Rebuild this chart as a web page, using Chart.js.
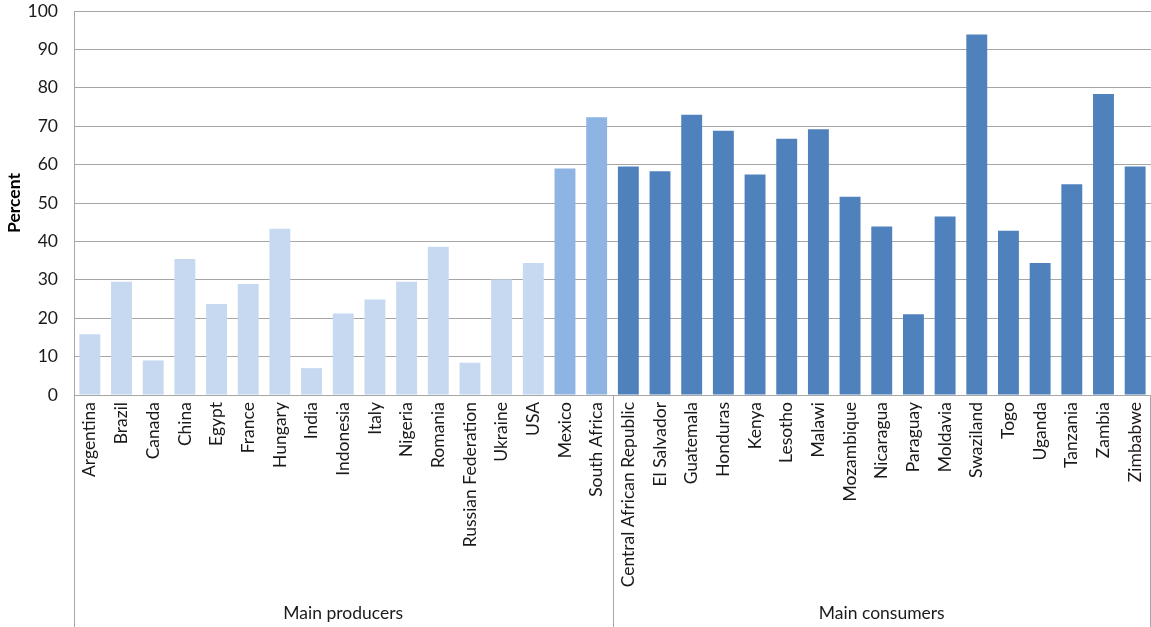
<!DOCTYPE html>
<html><head><meta charset="utf-8">
<script src="https://cdn.jsdelivr.net/npm/chart.js@4.4.1/dist/chart.umd.min.js"></script>
<style>html,body{margin:0;padding:0;background:#fff;}#wrap{width:1151px;height:627px;}</style>
</head><body><div id="wrap"><canvas id="c" width="1151" height="627"></canvas></div>
<script>
const categories = ["Argentina","Brazil","Canada","China","Egypt","France","Hungary","India","Indonesia","Italy","Nigeria","Romania","Russian Federation","Ukraine","USA","Mexico","South Africa","Central African Republic","El Salvador","Guatemala","Honduras","Kenya","Lesotho","Malawi","Mozambique","Nicaragua","Paraguay","Moldavia","Swaziland","Togo","Uganda","Tanzania","Zambia","Zimbabwe"];
const values = [15.8,29.5,9.0,35.4,23.7,28.9,43.3,7.0,21.2,24.9,29.5,38.6,8.4,30.1,34.4,59.0,72.3,59.5,58.3,73.0,68.8,57.4,66.7,69.2,51.6,43.9,21.0,46.5,93.9,42.8,34.4,54.9,78.4,59.5];
const groupNames = ["Main producers","Main consumers"];
const groupSizes = [17,17];
const shade = ["light","light","light","light","light","light","light","light","light","light","light","light","light","light","light","mid","mid","dark","dark","dark","dark","dark","dark","dark","dark","dark","dark","dark","dark","dark","dark","dark","dark","dark"];
const palette = {light:"#C6D9F1", mid:"#8EB4E3", dark:"#4F81BD"};

const FONT = "Lato, 'Liberation Sans', sans-serif";

const groupPlugin = {
  id: "groups",
  afterDraw(chart) {
    const ctx = chart.ctx, x = chart.scales.x, area = chart.chartArea;
    const H = chart.height;
    ctx.save();
    ctx.strokeStyle = "#A6A6A6";
    ctx.lineWidth = 1;
    let start = 0;
    const bounds = [];
    for (let g = 0; g < groupSizes.length; g++) {
      const end = start + groupSizes[g] - 1;
      const left = (x.getPixelForValue(start) + x.getPixelForValue(start - 1)) / 2;
      const right = (x.getPixelForValue(end) + x.getPixelForValue(end + 1)) / 2;
      bounds.push([left, right]);
      start = end + 1;
    }
    const lines = [bounds[0][0], bounds[0][1], bounds[1][1]];
    lines.forEach(px => {
      const p = Math.min(Math.round(px), chart.width - 1) + 0.5;
      ctx.beginPath(); ctx.moveTo(p, area.bottom); ctx.lineTo(p, H); ctx.stroke();
    });
    ctx.fillStyle = "#1a1a1a";
    ctx.font = "17.5px " + FONT;
    ctx.textAlign = "center"; ctx.textBaseline = "middle";
    bounds.forEach((b, i) => ctx.fillText(groupNames[i], (b[0] + b[1]) / 2, 613));
    ctx.restore();
  }
};

new Chart(document.getElementById("c"), {
  type: "bar",
  data: {
    labels: categories,
    datasets: [{
      data: values,
      backgroundColor: shade.map(s => palette[s]),
      borderWidth: 0,
      barPercentage: 0.66,
      categoryPercentage: 1.0
    }]
  },
  options: {
    responsive: false,
    animation: false,
    events: [],
    layout: { padding: { top: 11, right: 0, left: 0, bottom: 0 } },
    plugins: { legend: { display: false }, tooltip: { enabled: false } },
    scales: {
      y: {
        min: 0, max: 100,
        ticks: { stepSize: 10, color: "#1a1a1a", font: { family: FONT, size: 17.5 }, padding: 16 },
        grid: { color: "#A6A6A6", drawTicks: false, lineWidth: 1 },
        border: { color: "#A6A6A6" },
        title: { display: true, text: "Percent", color: "#000", font: { family: FONT, size: 17.5, weight: "bold" }, padding: { top: 4, bottom: 8 } },
        afterFit(s) { s.width = 74; s.paddingTop = 0; s.paddingBottom = 0; }
      },
      x: {
        ticks: { color: "#1a1a1a", font: { family: FONT, size: 17.5 }, minRotation: 90, maxRotation: 90, autoSkip: false, padding: 7 },
        grid: { display: false, drawTicks: false },
        border: { color: "#A6A6A6" },
        afterFit(s) { s.height = 232; s.paddingLeft = 0; s.paddingRight = 0; }
      }
    }
  },
  plugins: [groupPlugin]
});
</script></body></html>
